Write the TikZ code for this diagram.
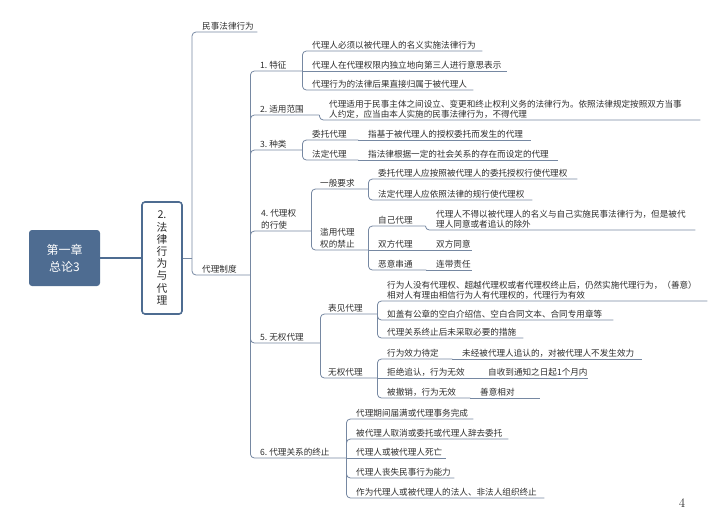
\documentclass[tikz,border=0pt]{standalone}
\usepackage{fontspec}
\newfontfamily\cjk{Noto Sans CJK SC}
\definecolor{lnk}{RGB}{118,136,162}
\definecolor{rootc}{RGB}{78,108,145}
\definecolor{txt}{RGB}{45,45,45}
\tikzset{
  link/.style={draw=lnk, line width=0.8pt, rounded corners=4pt},
  topic/.style={anchor=south west, inner xsep=0pt, inner ysep=1.6pt, align=left, text=txt,
    font=\cjk\fontsize{8.6}{10}\selectfont},
  topicb/.style={topic, font=\cjk\fontsize{8.6}{11.5}\selectfont},
  rootbox/.style={fill=rootc, rounded corners=3pt, minimum width=71pt, minimum height=56pt,
    text=white, align=center, font=\cjk\fontsize{12}{17}\selectfont},
  subbox/.style={draw=rootc, line width=1.6pt, fill=white, rounded corners=3pt, minimum width=40pt,
    minimum height=112pt, align=center, text=txt, font=\cjk\fontsize{10.8}{12.2}\selectfont},
}
\begin{document}
\begin{tikzpicture}[x=1pt,y=-1pt]
\useasboundingbox (0,0) rectangle (720,517);
% root and main topic
\node[rootbox] (root) at (64.5,258) {第一章\\总论3};
\node[subbox] (box) at (162,258) {2.\\法\\律\\行\\为\\与\\代\\理};
\coordinate (s0) at (192,258);
% level B
\node[topic, text width=55pt] (mf) at (202,32) {民事法律行为};
\node[topic, text width=48pt] (dz) at (202,275) {代理制度};
% level C
\node[topic, text width=42pt] (t1) at (260,71) {1.\hspace{2pt}特征};
\node[topic, text width=59pt] (t2) at (260,115) {2.\hspace{2pt}适用范围};
\node[topic, text width=42pt] (t3) at (260,150) {3.\hspace{2pt}种类};
\node[topicb, text width=50pt] (t4) at (261,231) {4.\hspace{2pt}代理权\\的行使};
\node[topic, text width=60pt] (t5) at (260,343) {5.\hspace{2pt}无权代理};
\node[topic, text width=86pt] (t6) at (260,458) {6.\hspace{2pt}代理关系的终止};
% 1
\node[topic, text width=170pt] (a11) at (312,51) {代理人必须以被代理人的名义实施法律行为};
\node[topic, text width=195pt] (a12) at (312,71) {代理人在代理权限内独立地向第三人进行意思表示};
\node[topic, text width=161pt] (a13) at (312,90) {代理行为的法律后果直接归属于被代理人};
% 2
\node[topic, text width=371pt] (a21) at (329,120) {代理适用于民事主体之间设立、变更和终止权利义务的法律行为。依照法律规定按照双方当事\\人约定，应当由本人实施的民事法律行为，不得代理};
% 3
\node[topic, text width=46pt] (a31) at (312,140) {委托代理};
\node[topic, text width=163pt] (b31) at (368,140) {指基于被代理人的授权委托而发生的代理};
\node[topic, text width=46pt] (a32) at (312,160) {法定代理};
\node[topic, text width=190pt] (b32) at (368,160) {指法律根据一定的社会关系的存在而设定的代理};
% 4
\node[topic, text width=48pt] (a41) at (320,189) {一般要求};
\node[topic, text width=199pt] (b411) at (378,179) {委托代理人应按照被代理人的委托授权行使代理权};
\node[topic, text width=154pt] (b412) at (378,200) {法定代理人应依照法律的规行使代理权};
\node[topicb, text width=48pt] (a42) at (320,250) {滥用代理\\权的禁止};
\node[topic, text width=47pt] (b421) at (378,226) {自己代理};
\node[topic, text width=259pt] (c421) at (436,230) {代理人不得以被代理人的名义与自己实施民事法律行为，但是被代\\理人同意或者追认的除外};
\node[topic, text width=48pt] (b422) at (378,250) {双方代理};
\node[topic, text width=36pt] (c422) at (436,250) {双方同意};
\node[topic, text width=48pt] (b423) at (378,270) {恶意串通};
\node[topic, text width=36pt] (c423) at (436,270) {连带责任};
% 5
\node[topic, text width=49pt] (a51) at (328,314) {表见代理};
\node[topic, text width=320pt] (b511) at (387,301) {行为人没有代理权、超越代理权或者代理权终止后，仍然实施代理行为，（善意）\\相对人有理由相信行为人有代理权的，代理行为有效};
\node[topic, text width=226pt] (b512) at (387,320) {如盖有公章的空白介绍信、空白合同文本、合同专用章等};
\node[topic, text width=136pt] (b513) at (387,338) {代理关系终止后未采取必要的措施};
\node[topic, text width=49pt] (a52) at (328,378) {无权代理};
\node[topic, text width=65pt] (b521) at (387,359) {行为效力待定};
\node[topic, text width=180pt] (c521) at (462,359) {未经被代理人追认的，对被代理人不发生效力};
\node[topic, text width=91pt] (b522) at (387,378) {拒绝追认，行为无效};
\node[topic, text width=100pt] (c522) at (488,378) {自收到通知之日起1个月内};
\node[topic, text width=83pt] (b523) at (387,398) {被撤销，行为无效};
\node[topic, text width=60pt] (c523) at (480,398) {善意相对};
% 6
\node[topic, text width=117pt] (a61) at (356,419) {代理期间届满或代理事务完成};
\node[topic, text width=152pt] (a62) at (356,439) {被代理人取消或委托或代理人辞去委托};
\node[topic, text width=90pt] (a63) at (356,458) {代理人或被代理人死亡};
\node[topic, text width=98pt] (a64) at (356,478) {代理人丧失民事行为能力};
\node[topic, text width=188pt] (a65) at (356,498) {作为代理人或被代理人的法人、非法人组织终止};
% page number
\node[text=txt, font=\fontsize{13}{15}\selectfont] (pg) at (682,503) {4};
% connectors
\draw[draw=rootc, line width=1.6pt] (root.east) -- (box.west);
\draw[link] (box.east) -- (s0);
\draw[link] (s0) |- (mf.south east);
\draw[link] (s0) |- (dz.south east);
\foreach \t in {t1,t2,t3,t4,t5,t6} \draw[link] (dz.south east) |- (\t.south east);
\draw[link] (t1.south east) |- (a11.south east);
\draw[link] (t1.south east) -- (a12.south east);
\draw[link] (t1.south east) |- (a13.south east);
\draw[link] (t2.south east) |- (a21.south east);
\draw[link] (t3.south east) |- (a31.south east);
\draw[link] (t3.south east) |- (a32.south east);
\draw[link] (a31.south east) -- (b31.south east);
\draw[link] (a32.south east) -- (b32.south east);
\draw[link] (t4.south east) |- (a41.south east);
\draw[link] (t4.south east) |- (a42.south east);
\draw[link] (a41.south east) |- (b411.south east);
\draw[link] (a41.south east) |- (b412.south east);
\draw[link] (a42.south east) |- (b421.south east);
\draw[link] (a42.south east) -- (b422.south east);
\draw[link] (a42.south east) |- (b423.south east);
\draw[link] (b421.south east) |- (c421.south east);
\draw[link] (b422.south east) -- (c422.south east);
\draw[link] (b423.south east) -- (c423.south east);
\draw[link] (t5.south east) |- (a51.south east);
\draw[link] (t5.south east) |- (a52.south east);
\draw[link] (a51.south east) |- (b511.south east);
\draw[link] (a51.south east) |- (b512.south east);
\draw[link] (a51.south east) |- (b513.south east);
\draw[link] (a52.south east) |- (b521.south east);
\draw[link] (a52.south east) -- (b522.south east);
\draw[link] (a52.south east) |- (b523.south east);
\draw[link] (b521.south east) -- (c521.south east);
\draw[link] (b522.south east) -- (c522.south east);
\draw[link] (b523.south east) -- (c523.south east);
\draw[link] (t6.south east) |- (a61.south east);
\draw[link] (t6.south east) |- (a62.south east);
\draw[link] (t6.south east) -- (a63.south east);
\draw[link] (t6.south east) |- (a64.south east);
\draw[link] (t6.south east) |- (a65.south east);
\end{tikzpicture}
\end{document}
